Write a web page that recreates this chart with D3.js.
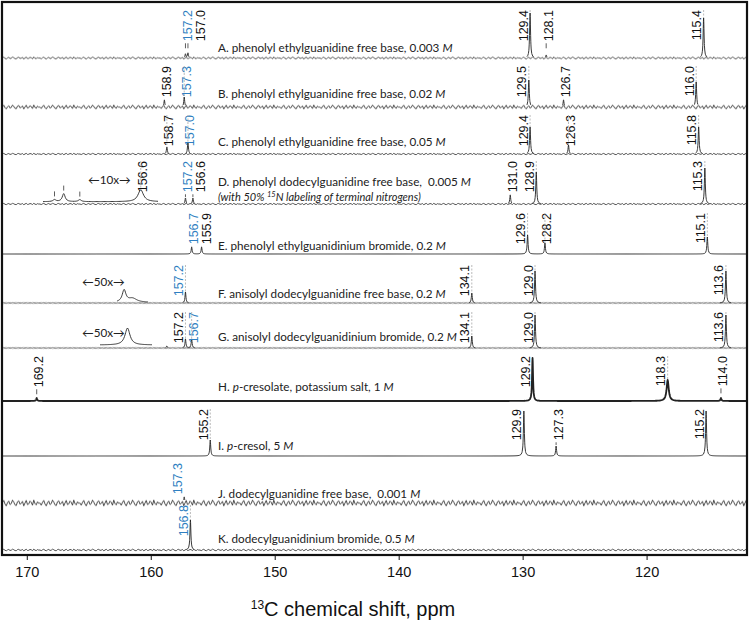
<!DOCTYPE html>
<html>
<head>
<meta charset="utf-8">
<script src="https://cdn.jsdelivr.net/npm/d3@7/dist/d3.min.js"></script>
<style>
  body { margin: 0; background: #fff; }
  svg { display: block; }
  .nm { font-family: Lato, "Open Sans", sans-serif; font-size: 11.7px; fill: #222; white-space: pre; }
  .pk { font-family: "Liberation Sans", Arial, sans-serif; font-size: 12.5px; }
  .ax text { font-family: "Liberation Sans", Arial, sans-serif; font-size: 14.5px; fill: #111; }
</style>
</head>
<body>
<svg id="chart" width="750" height="622"></svg>
<script>
// sample names  (_x_ = italic, ^x^ = superscript)
const panelIds = ["A", "B", "C", "D", "E", "F", "G", "H", "I", "J", "K"];
const sampleNames = [
  "A. phenolyl ethylguanidine free base, 0.003 _M_",
  "B. phenolyl ethylguanidine free base, 0.02 _M_",
  "C. phenolyl ethylguanidine free base, 0.05 _M_",
  "D. phenolyl dodecylguanidine free base,  0.005 _M_",
  "E. phenolyl ethylguanidinium bromide, 0.2 _M_",
  "F. anisolyl dodecylguanidine free base, 0.2 _M_",
  "G. anisolyl dodecylguanidinium bromide, 0.2 _M_",
  "H. _p_-cresolate, potassium salt, 1 _M_",
  "I. _p_-cresol, 5 _M_",
  "J. dodecylguanidine free base,  0.001 _M_",
  "K. dodecylguanidinium bromide, 0.5 _M_"
];
const noteD = "(with 50% ^15^N labeling of terminal nitrogens)";

// picked peaks: ppm, height (a.u.), gu = guanidine carbon (blue label),
// nl = no label, w = half width in ppm (default 0.045)
const peaksA = [
  {ppm: 157.2, h: 4, gu: 1}, {ppm: 157.0, h: 5},
  {ppm: 129.4, h: 45}, {ppm: 128.1, h: 3}, {ppm: 115.4, h: 40}
];
const peaksB = [
  {ppm: 158.9, h: 7}, {ppm: 157.3, h: 10, gu: 1},
  {ppm: 129.5, h: 27}, {ppm: 126.7, h: 7}, {ppm: 116.0, h: 25}
];
const peaksC = [
  {ppm: 158.7, h: 7}, {ppm: 157.0, h: 12, gu: 1},
  {ppm: 129.4, h: 27}, {ppm: 126.3, h: 9}, {ppm: 115.8, h: 27}
];
const peaksD = [
  {ppm: 157.2, h: 6, gu: 1}, {ppm: 156.6, h: 6},
  {ppm: 131.0, h: 9}, {ppm: 128.9, h: 32}, {ppm: 115.3, h: 36}
];
const peaksE = [
  {ppm: 156.7, h: 7, gu: 1}, {ppm: 155.9, h: 7},
  {ppm: 129.6, h: 19}, {ppm: 128.2, h: 11}, {ppm: 115.1, h: 17}
];
const peaksF = [
  {ppm: 157.2, h: 11, gu: 1}, {ppm: 134.1, h: 10},
  {ppm: 129.0, h: 32}, {ppm: 113.6, h: 32}
];
const peaksG = [
  {ppm: 158.7, h: 2, nl: 1}, {ppm: 157.2, h: 9}, {ppm: 156.7, h: 9, gu: 1},
  {ppm: 134.1, h: 12}, {ppm: 129.0, h: 33}, {ppm: 113.6, h: 33}
];
const peaksH = [
  {ppm: 169.2, h: 3}, {ppm: 129.2, h: 43},
  {ppm: 118.3, h: 21, w: 0.1}, {ppm: 114.0, h: 3}
];
const peaksI = [
  {ppm: 155.2, h: 16}, {ppm: 129.9, h: 45},
  {ppm: 127.3, h: 10}, {ppm: 115.2, h: 45}
];
const peaksJ = [{ppm: 157.3, h: 6, gu: 1}];
const peaksK = [{ppm: 156.8, h: 30, gu: 1}];
const spectra = [peaksA, peaksB, peaksC, peaksD, peaksE, peaksF, peaksG, peaksH, peaksI, peaksJ, peaksK];

// vertically expanded insets of the guanidine region
const insetD = [
  {ppm: 157.35, h: 2, w: 0.015, tick: 1}, {ppm: 157.27, h: 8, w: 0.015, tick: 1},
  {ppm: 157.13, h: 2, w: 0.015, tick: 1}, {ppm: 156.6, h: 12, w: 0.028, lab: 1}
];
const insetF = [{ppm: 157.44, h: 12, w: 0.05}, {ppm: 157.25, h: 4, w: 0.12}];
const insetG = [{ppm: 157.23, h: 17, w: 0.04}];
const insetFactors = ["10x", "50x", "50x"];

const ppmTicks = [170, 160, 150, 140, 130, 120];

// ---- layout ----
const BASE = [58, 107, 154, 204, 254, 303, 348, 401, 456, 503, 550];
const NAME_DY = [-6.5, -9, -8.5, -18, -4.5, -5, -7, -10.5, -6.5, -5.5, -7];
const LABEL_TOP = [8, 8, 8, 7, 9, 11, 9, 8, 8, 7, 2];
const NOISE = [1.2, 2.2, 0.7, 0.7, 0, 0.4, 0.4, 0, 0, 3.2, 0.9];
const LINE_W = [0.9, 0.9, 0.9, 0.9, 0.9, 0.9, 0.9, 1.8, 0.9, 0.9, 0.9];
const LEFT_LABELS = ["F157.2", "F134.1", "G157.2", "G134.1", "J157.3"];
const INSETS = [
  {panel: 3, data: insetD, dom: [157.45, 156.45], range: [43, 158], base: 201.7, tx: 88, ty: 184},
  {panel: 5, data: insetF, dom: [157.6, 156.9], range: [117, 148], base: 302.5, tx: 82, ty: 285.5},
  {panel: 6, data: insetG, dom: [157.6, 156.9], range: [100, 152], base: 345, tx: 82, ty: 337}
];
const BLUE = "#2f7fc1";
const INK = "#222";
// hand drawn wiggle used as baseline noise texture (one 40px tile)
const NOISE_SHAPE = [0, .7, -.2, -.8, .3, .9, -.1, -.6, .5, .2, -.9, -.3, .6, .8, -.4, -.7,
  .4, .1, -.5, .9, 0, -.8, .5, .3, -.6, -.2, .7, -.9, .2, .6, -.4, .1, 0];

const svg = d3.select("#chart");
const x = d3.scaleLinear().domain([172, 111.9]).range([2, 747]);
const fmt = d3.format(".1f");

const defs = svg.append("defs");
defs.append("clipPath").attr("id", "plot")
  .append("rect").attr("x", 2).attr("y", 2).attr("width", 745).attr("height", 553);

function shape(peaks, v) {
  return d3.sum(peaks, p => p.h / (1 + Math.pow((v - p.ppm) / (p.w || 0.045), 2)));
}
function sample(dom, peaks, step) {
  const lo = d3.min(dom), hi = d3.max(dom);
  const s = d3.range(lo, hi, step).concat([hi]);
  peaks.forEach(p => {
    const w = p.w || 0.045;
    [-8, -5, -3, -2, -1.5, -1, -0.6, -0.3, 0, 0.3, 0.6, 1, 1.5, 2, 3, 5, 8]
      .forEach(k => s.push(p.ppm + k * w));
  });
  return s.filter(v => v >= lo && v <= hi).sort(d3.ascending).map(v => [v, shape(peaks, v)]);
}
function rich(sel, str) {
  str.split(/(_[^_]+_|\^[^^]+\^)/).filter(Boolean).forEach(s => {
    if (s[0] === "_") sel.append("tspan").style("font-style", "italic").text(s.slice(1, -1));
    else if (s[0] === "^") sel.append("tspan").attr("baseline-shift", "super").attr("font-size", "7.5px").text(s.slice(1, -1));
    else sel.append("tspan").text(s);
  });
}

function labelPeaks(g, items, top, pid) {
  const t = g.selectAll(null).data(items).join("text")
    .attr("class", "pk").attr("text-anchor", "end")
    .attr("fill", d => d.gu ? BLUE : "#111")
    .text(d => d.txt);
  t.each(function (d) {
    d.len = this.getComputedTextLength();
    d.small = d.h < 13 && !LEFT_LABELS.includes(pid + d.txt);
    d.cx = d.small ? d.px + 2 : d.px - 7;
  });
  const order = items.slice().sort((a, b) => a.cx - b.cx);
  for (let i = 1; i < order.length; i++) order[i].cx = Math.max(order[i].cx, order[i - 1].cx + 13);
  t.attr("transform", d => `translate(${d.cx + 4.5},${top}) rotate(-90)`);
  items.forEach(d => {
    const bot = top + d.len;
    if (d.ptop > bot + 2) {
      g.append("line").attr("x1", d.px).attr("x2", d.px)
        .attr("y1", bot + 2).attr("y2", Math.min(bot + 7, d.ptop - 1))
        .attr("stroke", "#333").attr("stroke-width", 0.8);
    } else if (d.ptop > top + 2) {
      g.append("line").attr("x1", d.px).attr("x2", d.px)
        .attr("y1", top).attr("y2", d.ptop)
        .attr("stroke", "#aaa").attr("stroke-width", 0.8).attr("stroke-dasharray", "2,1.5");
    }
  });
}

const plot = svg.append("g").attr("clip-path", "url(#plot)");

spectra.forEach((peaks, i) => {
  const pid = panelIds[i], base = BASE[i], top = i ? BASE[i - 1] : 2;
  const y = d3.scaleLinear().domain([0, 50]).range([base, base - 50]);
  const g = plot.append("g");
  const amp = NOISE[i];
  if (amp > 0) {
    const c = amp + 1;
    const tile = d3.line()(NOISE_SHAPE.map((v, k) => [k * 1.25, c + v * amp]));
    const pat = defs.append("pattern").attr("id", "nz" + pid)
      .attr("patternUnits", "userSpaceOnUse")
      .attr("x", 0).attr("y", base - c).attr("width", 40).attr("height", 2 * c);
    pat.append("path").attr("d", tile).attr("fill", "none")
      .attr("stroke", INK).attr("stroke-width", 0.8);
    g.append("rect").attr("x", 2).attr("y", base - c).attr("width", 745).attr("height", 2 * c)
      .attr("fill", `url(#nz${pid})`);
  }
  const pts = sample(x.domain(), peaks, 0.08);
  g.append("path").datum(pts)
    .attr("d", d3.line().defined(d => !amp || d[1] > amp * 0.7).x(d => x(d[0])).y(d => y(d[1])))
    .attr("fill", "none").attr("stroke", INK).attr("stroke-width", LINE_W[i])
    .attr("stroke-linejoin", "round");

  const items = peaks.filter(p => !p.nl).map(p => ({
    px: x(p.ppm), ptop: y(shape(peaks, p.ppm)), h: p.h, gu: p.gu, txt: fmt(p.ppm)
  }));
  labelPeaks(g, items, top + LABEL_TOP[i], pid);

  const nm = svg.append("text").attr("class", "nm").attr("x", 218).attr("y", base + NAME_DY[i]);
  rich(nm, sampleNames[i]);
  if (pid === "D") {
    const n2 = svg.append("text").attr("class", "nm").attr("x", 218).attr("y", base - 3.5)
      .style("font-style", "italic").style("font-size", "11px");
    rich(n2, noteD);
  }
});

INSETS.forEach((ins, j) => {
  const xi = d3.scaleLinear().domain(ins.dom).range(ins.range);
  const yi = d3.scaleLinear().domain([0, 50]).range([ins.base, ins.base - 50]);
  const g = svg.append("g");
  g.append("path").datum(sample(ins.dom, ins.data, 0.01))
    .attr("d", d3.line().x(d => xi(d[0])).y(d => yi(d[1])))
    .attr("fill", "none").attr("stroke", INK).attr("stroke-width", 0.9);
  g.append("text").attr("class", "nm").attr("x", ins.tx).attr("y", ins.ty)
    .text("\u2190" + insetFactors[j] + "\u2192");
  ins.data.filter(p => p.tick).forEach(p => {
    const pt = yi(shape(ins.data, p.ppm));
    g.append("line").attr("x1", xi(p.ppm)).attr("x2", xi(p.ppm))
      .attr("y1", pt - 8).attr("y2", pt - 3).attr("stroke", "#333").attr("stroke-width", 0.8);
  });
  const items = ins.data.filter(p => p.lab).map(p => ({
    px: xi(p.ppm), ptop: yi(shape(ins.data, p.ppm)), h: p.h, gu: 0, txt: fmt(p.ppm)
  }));
  if (items.length) labelPeaks(g, items, BASE[ins.panel - 1] + LABEL_TOP[ins.panel], "inset");
});

// frame and axis
svg.append("rect").attr("x", 2).attr("y", 2).attr("width", 745).attr("height", 553)
  .attr("fill", "none").attr("stroke", "#111").attr("stroke-width", 2.2);

const ax = svg.append("g").attr("class", "ax").attr("transform", "translate(0,555)")
  .call(d3.axisBottom(x).tickValues(ppmTicks).tickSize(5).tickPadding(6.5).tickFormat(d3.format("d")));
ax.select(".domain").remove();
ax.selectAll(".tick line").attr("stroke", "#111").attr("stroke-width", 1);

const title = svg.append("text").attr("x", 353).attr("y", 616).attr("text-anchor", "middle")
  .style("font-family", '"Liberation Sans", Arial, sans-serif').attr("fill", "#111");
title.append("tspan").attr("font-size", "12px").attr("baseline-shift", "super").text("13");
title.append("tspan").attr("font-size", "20px").text("C chemical shift, ppm");
</script>
</body>
</html>
